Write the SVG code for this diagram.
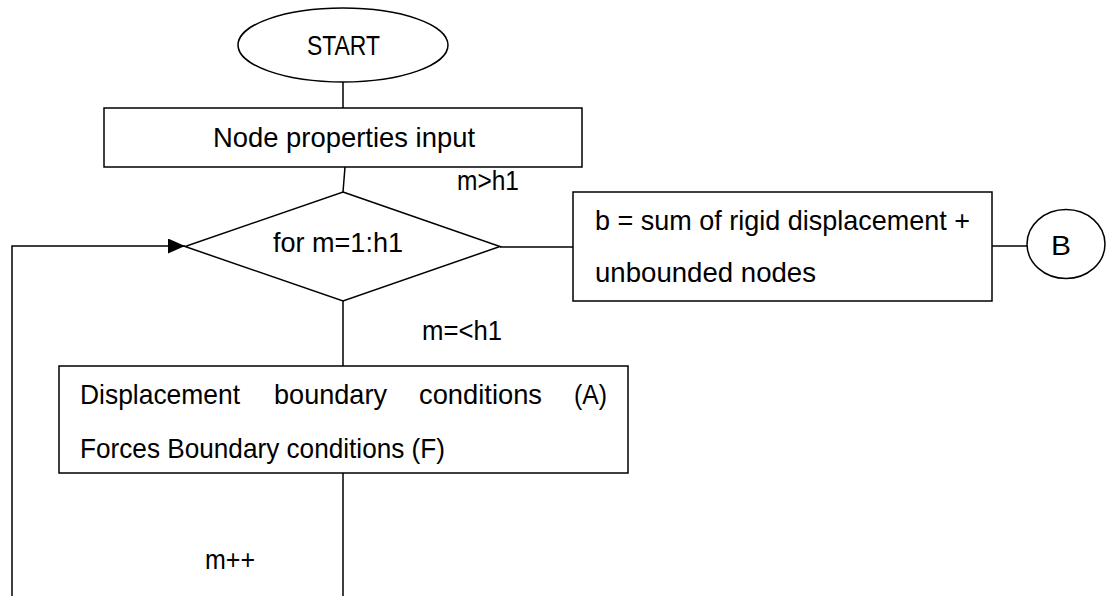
<svg xmlns="http://www.w3.org/2000/svg" width="1106" height="596" viewBox="0 0 1106 596">
<style>
.s{fill:#fff;stroke:#000;stroke-width:1.5}
.c{fill:none;stroke:#000;stroke-width:1.5}
text{font-family:"Liberation Sans",Arial,sans-serif;font-size:28px;fill:#000}
</style>
<defs>
<marker id="arr" markerWidth="17" markerHeight="15" refX="17" refY="7.5" orient="auto" markerUnits="userSpaceOnUse">
<path d="M0,0 L17,7.5 L0,15 Z" fill="#000"/>
</marker>
</defs>
<rect width="1106" height="596" fill="#fff"/>
<g id="connectors">
<line class="c" x1="343" y1="82" x2="343" y2="108"/>
<line class="c" x1="345" y1="167" x2="343" y2="192"/>
<line class="c" x1="500" y1="247" x2="573" y2="247"/>
<line class="c" x1="992" y1="246" x2="1027" y2="246"/>
<line class="c" x1="343" y1="301" x2="343" y2="366"/>
<line class="c" x1="343" y1="473" x2="343" y2="596"/>
<polyline class="c" points="12,596 12,246 185,246" marker-end="url(#arr)"/>
</g>
<g id="start">
<ellipse class="s" cx="343" cy="45" rx="105" ry="37"/>
<text x="307" y="55" textLength="73" lengthAdjust="spacingAndGlyphs">START</text>
</g>
<g id="input">
<rect class="s" x="104" y="108" width="478" height="59"/>
<text x="213" y="147" textLength="262" lengthAdjust="spacingAndGlyphs">Node properties input</text>
</g>
<g id="decision">
<polygon class="s" points="343,192 500,246.5 343,301 185,246.5"/>
<text x="273" y="252" textLength="130" lengthAdjust="spacingAndGlyphs">for m=1:h1</text>
</g>
<g id="label-gt">
<text x="457" y="190" textLength="62" lengthAdjust="spacingAndGlyphs">m&gt;h1</text>
</g>
<g id="sum">
<rect class="s" x="573" y="192" width="419" height="109"/>
<text x="595" y="230" textLength="375" lengthAdjust="spacingAndGlyphs">b = sum of rigid displacement +</text>
<text x="595" y="282" textLength="221" lengthAdjust="spacingAndGlyphs">unbounded nodes</text>
</g>
<g id="connector-B">
<ellipse class="s" cx="1066" cy="244" rx="39" ry="34.5"/>
<text x="1051" y="255" textLength="20" lengthAdjust="spacingAndGlyphs">B</text>
</g>
<g id="label-le">
<text x="422" y="340" textLength="80" lengthAdjust="spacingAndGlyphs">m=&lt;h1</text>
</g>
<g id="boundary">
<rect class="s" x="59" y="366" width="569" height="107"/>
<text x="80" y="404" textLength="160" lengthAdjust="spacingAndGlyphs">Displacement</text>
<text x="274" y="404" textLength="113" lengthAdjust="spacingAndGlyphs">boundary</text>
<text x="419" y="404" textLength="123" lengthAdjust="spacingAndGlyphs">conditions</text>
<text x="574" y="404" textLength="33" lengthAdjust="spacingAndGlyphs">(A)</text>
<text x="80" y="458" textLength="365" lengthAdjust="spacingAndGlyphs">Forces Boundary conditions (F)</text>
</g>
<g id="label-inc">
<text x="205" y="569" textLength="50" lengthAdjust="spacingAndGlyphs">m++</text>
</g>
</svg>
